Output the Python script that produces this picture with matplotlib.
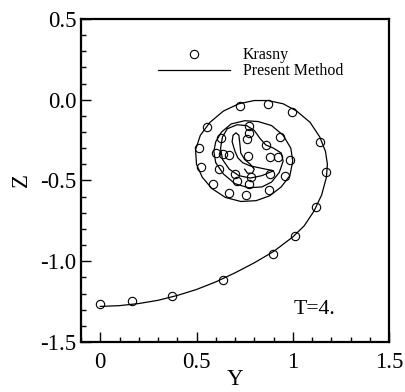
import numpy as np
import matplotlib.pyplot as plt
from matplotlib.ticker import MultipleLocator

# Krasny reference points (Y, Z)
krasny_y = [0.0, 0.166, 0.371, 0.636, 0.898, 1.012, 1.121, 1.172, 1.140, 0.995,
            0.870, 0.724, 0.556, 0.511, 0.523, 0.586, 0.669, 0.759, 0.875, 0.960,
            0.986, 0.934, 0.773, 0.773, 0.626, 0.600, 0.617, 0.700, 0.711, 0.773,
            0.785, 0.882, 0.925, 0.882, 0.863, 0.764, 0.767, 0.669, 0.640]
krasny_z = [-1.262, -1.249, -1.214, -1.118, -0.953, -0.841, -0.662, -0.445, -0.264, -0.076,
            -0.027, -0.039, -0.167, -0.301, -0.419, -0.520, -0.579, -0.590, -0.561, -0.470,
            -0.371, -0.229, -0.161, -0.206, -0.237, -0.330, -0.429, -0.460, -0.501, -0.520,
            -0.480, -0.458, -0.355, -0.355, -0.278, -0.243, -0.351, -0.344, -0.334]

# Present method sheet (Y, Z)
sheet_y = [0.0, 0.1, 0.2, 0.3, 0.4, 0.5, 0.6, 0.7, 0.8, 0.9, 1.0, 1.06, 1.11, 1.15,
           1.175, 1.18, 1.17, 1.14, 1.09, 1.02, 0.95, 0.87, 0.8, 0.72, 0.64, 0.57,
           0.52, 0.495, 0.5, 0.53, 0.58, 0.65, 0.73, 0.81, 0.88, 0.94, 0.985, 1.0,
           0.99, 0.95, 0.89, 0.82, 0.75, 0.68, 0.63, 0.60, 0.59, 0.60, 0.64, 0.70,
           0.77, 0.84, 0.89, 0.93, 0.95, 0.94, 0.90, 0.86, 0.83, 0.80, 0.76, 0.71,
           0.66, 0.635, 0.625, 0.635, 0.67, 0.72, 0.78, 0.84, 0.90, 0.84, 0.78, 0.74,
           0.715, 0.70, 0.685, 0.69, 0.705, 0.72, 0.725, 0.73, 0.75, 0.78, 0.80, 0.79,
           0.765, 0.75]
sheet_z = [-1.28, -1.275, -1.262, -1.242, -1.212, -1.175, -1.128, -1.072, -1.01, -0.94,
           -0.85, -0.78, -0.69, -0.59, -0.48, -0.40, -0.32, -0.23, -0.14, -0.07,
           -0.025, -0.005, -0.005, -0.025, -0.07, -0.14, -0.22, -0.31, -0.40, -0.48,
           -0.55, -0.605, -0.63, -0.625, -0.595, -0.54, -0.47, -0.38, -0.30, -0.22,
           -0.16, -0.135, -0.13, -0.15, -0.20, -0.26, -0.32, -0.39, -0.46, -0.52,
           -0.545, -0.54, -0.51, -0.45, -0.38, -0.33, -0.30, -0.28, -0.24, -0.19,
           -0.16, -0.155, -0.18, -0.23, -0.30, -0.37, -0.43, -0.47, -0.485, -0.47,
           -0.44, -0.425, -0.41, -0.39, -0.36, -0.32, -0.26, -0.22, -0.205, -0.22,
           -0.27, -0.33, -0.37, -0.40, -0.43, -0.455, -0.455, -0.43]

x_ticks = [0, 0.5, 1, 1.5]
x_labels = ['0', '0.5', '1', '1.5']
y_ticks = [-1.5, -1.0, -0.5, 0.0, 0.5]
y_labels = ['-1.5', '-1.0', '-0.5', '0.0', '0.5']

plt.rcParams['font.family'] = ['Liberation Serif', 'DejaVu Serif']

fig = plt.figure(figsize=(4.05, 3.92), dpi=100)
ax = fig.add_axes([0.2, 0.1276, 0.7605, 0.824])

ax.plot(krasny_y, krasny_z, 'o', mfc='none', mec='black', mew=0.8, ms=6,
        linestyle='none', label='Krasny')
ax.plot(sheet_y, sheet_z, color='black', lw=0.9, label='Present Method')

ax.set_xlim(-0.1, 1.5)
ax.set_ylim(-1.5, 0.5)
ax.xaxis.set_minor_locator(MultipleLocator(0.1))
ax.yaxis.set_minor_locator(MultipleLocator(0.1))
ax.set_xticks(x_ticks)
ax.set_xticklabels(x_labels)
ax.set_yticks(y_ticks)
ax.set_yticklabels(y_labels)
ax.tick_params(which='both', direction='in', top=False, right=False, labelsize=16.5, width=1)
ax.tick_params(which='major', length=7)
ax.tick_params(which='minor', length=3.5)
ax.tick_params(axis='x', pad=7)
ax.tick_params(axis='y', pad=3.5)
for s in ax.spines.values():
    s.set_linewidth(1.6)

ax.set_xlabel('Y', fontsize=16.5, labelpad=-3)
ax.set_ylabel('Z', fontsize=16.5, labelpad=6)

ax.text(1.114, -1.30, 'T=4.', fontsize=15.7, ha='center', va='center')

ax.legend(loc='upper left', bbox_to_anchor=(0.224, 0.937), frameon=False, fontsize=11.5,
          handlelength=4.5, handletextpad=0.8, labelspacing=0.0, borderpad=0)

fig.savefig('out.png', dpi=100)
